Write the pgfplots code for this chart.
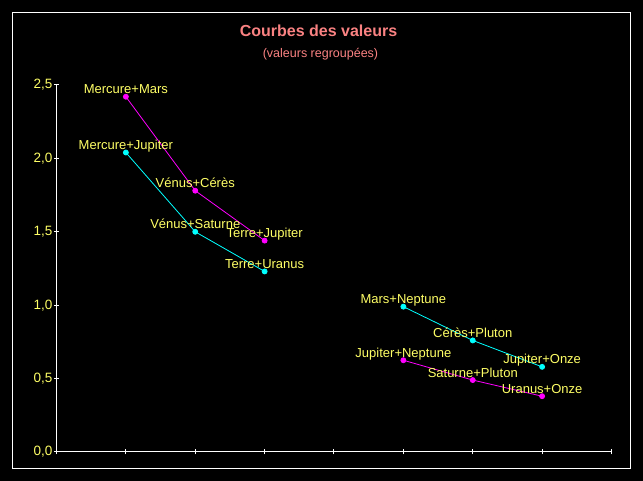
\documentclass[border=0pt]{standalone}
\usepackage{pgfplots}
\pgfplotsset{compat=1.18}
\usepackage{fontspec}
\setmainfont{Liberation Sans}
\definecolor{lblyellow}{RGB}{255,255,102}
\definecolor{titlepink}{RGB}{250,130,130}
\definecolor{mag}{RGB}{255,0,255}
\definecolor{cyn}{RGB}{0,255,255}
\begin{document}
\begin{tikzpicture}[x=1pt,y=1pt]
\fill[black] (0,0) rectangle (643,481);
\draw[white, line width=1pt] (12.7,12.5) rectangle (630.7,468.3);
\node[anchor=base, text=titlepink, font=\fontsize{16}{18}\selectfont\bfseries] at (318.5,444.3) {Courbes des valeurs};
\node[anchor=base, text=titlepink, font=\fontsize{12.5}{15}\selectfont] at (320.5,423.3) {(valeurs regroupées)};
\begin{axis}[
  at={(56.5pt,29pt)}, anchor=south west,
  scale only axis, width=555pt, height=367pt,
  xmin=0, xmax=8, ymin=0, ymax=2.5,
  axis x line=bottom, axis y line=left,
  axis line style={-, draw=white, line width=1pt},
  xtick={0,1,...,8}, xticklabels={},
  ytick={0,0.5,...,2.5},
  xtick align=center, ytick align=center,
  major tick length=5pt,
  tick style={draw=white, line width=1pt},
  y tick label style={text=lblyellow, font=\fontsize{13.5}{15}\selectfont, inner xsep=1.5pt},
  /pgf/number format/.cd, use comma, fixed, fixed zerofill, precision=1, assume math mode=true,
  /pgfplots/.cd,
  clip=false,
  point meta=explicit symbolic,
  nodes near coords,
  every node near coord/.append style={anchor=base, yshift=3pt, text=lblyellow, font=\fontsize{13}{15}\selectfont, inner sep=1pt},
]
\addplot[mag, line width=0.8pt, mark=*, mark size=2.5pt, mark options={fill=mag, draw=mag}] table[meta=label] {
x y label
1 2.42 Mercure+Mars
2 1.78 Vénus+Cérès
3 1.44 Terre+Jupiter
};
\addplot[mag, line width=0.8pt, mark=*, mark size=2.5pt, mark options={fill=mag, draw=mag}] table[meta=label] {
x y label
5 0.625 Jupiter+Neptune
6 0.49 Saturne+Pluton
7 0.38 Uranus+Onze
};
\addplot[cyn, line width=0.8pt, mark=*, mark size=2.5pt, mark options={fill=cyn, draw=cyn}] table[meta=label] {
x y label
1 2.04 Mercure+Jupiter
2 1.50 Vénus+Saturne
3 1.23 Terre+Uranus
};
\addplot[cyn, line width=0.8pt, mark=*, mark size=2.5pt, mark options={fill=cyn, draw=cyn}] table[meta=label] {
x y label
5 0.99 Mars+Neptune
6 0.76 Cérès+Pluton
7 0.58 Jupiter+Onze
};
\end{axis}
\end{tikzpicture}
\end{document}
